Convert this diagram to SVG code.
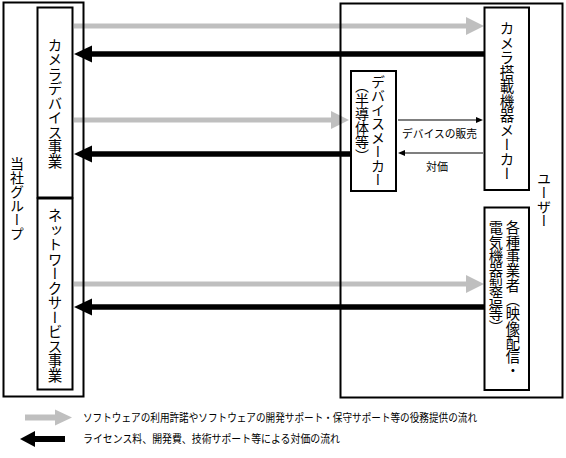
<svg xmlns="http://www.w3.org/2000/svg" width="566" height="458" viewBox="0 0 566 458">
<style>
.box{fill:none;stroke:#000;stroke-width:2}
.v{font-family:"Noto Sans CJK JP","Noto Sans",sans-serif;writing-mode:vertical-rl;text-anchor:middle;fill:#000}
.h{font-family:"Noto Sans CJK JP","Noto Sans",sans-serif;fill:#000}
.g{stroke:#bfbfbf;stroke-width:5;fill:none}
.b{stroke:#000;stroke-width:5.5;fill:none}
.t{stroke:#000;stroke-width:1.2;fill:none}
</style>
<defs>
<marker id="mg" markerUnits="userSpaceOnUse" markerWidth="18" markerHeight="18" refX="0" refY="9" orient="auto" overflow="visible"><path d="M0,0 L18,9 L0,18 Z" fill="#bfbfbf"/></marker>
<marker id="mb" markerUnits="userSpaceOnUse" markerWidth="18" markerHeight="17" refX="0" refY="8.5" orient="auto" overflow="visible"><path d="M0,0 L18,8.5 L0,17 Z" fill="#000"/></marker>
<marker id="mt" markerUnits="userSpaceOnUse" markerWidth="7" markerHeight="6" refX="0" refY="3" orient="auto" overflow="visible"><path d="M0,0 L7,3 L0,6 Z" fill="#000"/></marker>
</defs>
<g id="connectors">
<line class="g" x1="74" y1="26" x2="466" y2="26" marker-end="url(#mg)"/>
<line class="b" x1="484" y1="54" x2="92" y2="54" marker-end="url(#mb)"/>
<line class="g" x1="74" y1="120" x2="331" y2="120" marker-end="url(#mg)"/>
<line class="b" x1="351" y1="154" x2="92" y2="154" marker-end="url(#mb)"/>
<line class="g" x1="74" y1="284" x2="466" y2="284" marker-end="url(#mg)"/>
<line class="b" x1="484" y1="307" x2="92" y2="307" marker-end="url(#mb)"/>
<line class="t" x1="398" y1="120" x2="476" y2="120" marker-end="url(#mt)"/>
<line class="t" x1="483" y1="153" x2="405" y2="153" marker-end="url(#mt)"/>
<text class="h" x="402" y="138" font-size="11" textLength="75" lengthAdjust="spacingAndGlyphs">デバイスの販売</text>
<text class="h" x="437" y="171" font-size="11" text-anchor="middle">対価</text>
</g>
<g id="group">
<rect class="box" x="3.5" y="2.5" width="80" height="394"/>
<text class="v" x="17" y="198.5" font-size="14">当社グループ</text>
</g>
<g id="camera-device">
<rect class="box" x="37.5" y="7.5" width="35" height="190"/>
<text class="v" x="55" y="103" font-size="14.5">カメラデバイス事業</text>
</g>
<g id="network-service">
<rect class="box" x="37.5" y="198.5" width="35" height="191"/>
<text class="v" x="55" y="295.5" font-size="14.5">ネットワークサービス事業</text>
</g>
<g id="users">
<rect class="box" x="340.5" y="3.5" width="222" height="394"/>
<text class="v" x="544" y="199.5" font-size="14">ユーザー</text>
</g>
<g id="camera-maker">
<rect class="box" x="484.5" y="7.5" width="44.5" height="182.5"/>
<text class="v" x="507" y="101" font-size="14.5">カメラ搭載機器メーカー</text>
</g>
<g id="device-maker">
<rect class="box" x="351" y="71" width="45" height="120"/>
<text class="v" x="378" y="131" font-size="14">デバイスメーカー</text>
<text class="v" x="362" y="121" font-size="14">（半導体等）</text>
</g>
<g id="various">
<rect class="box" x="484.5" y="207.5" width="44.5" height="182.5"/>
<text class="v" x="513" y="299.5" font-size="14.3">各種事業者（映像配信・</text>
<text class="v" x="496" y="278" font-size="14.3">電気機器製造等）</text>
</g>
<g id="legend">
<polygon points="25,414.5 55,414.5 55,409.5 72,417.5 55,425.5 55,420.5 25,420.5" fill="#bfbfbf"/>
<polygon points="65,436 35,436 35,431 20,439 35,447 35,442 65,442" fill="#000"/>
<text class="h" x="83" y="422" font-size="11" textLength="394" lengthAdjust="spacingAndGlyphs">ソフトウェアの利用許諾やソフトウェアの開発サポート・保守サポート等の役務提供の流れ</text>
<text class="h" x="83" y="442.5" font-size="11" textLength="257" lengthAdjust="spacingAndGlyphs">ライセンス料、開発費、技術サポート等による対価の流れ</text>
</g>
</svg>
